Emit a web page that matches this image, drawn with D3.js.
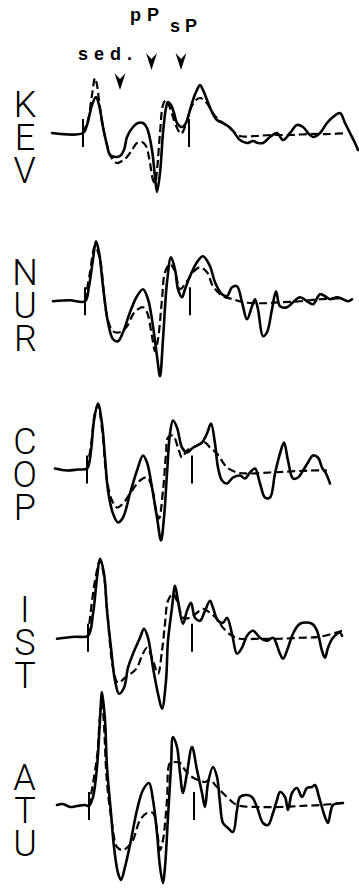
<!DOCTYPE html>
<html><head><meta charset="utf-8">
<script src="https://cdn.jsdelivr.net/npm/d3@7"></script>
<style>body{margin:0;background:#fff}svg{display:block}</style>
</head><body><svg id="c" width="359" height="888"></svg>
<script>
// ---- data (time in s, relative amplitude) ----
const stations = ["KEV","NUR","COP","IST","ATU"];
const phaseLabels = ["sed.","pP","sP"];
const phaseTimes = [7.0, 10.15, 13.1];
const onsetTimes = [3.3, 3.5, 3.7, 3.8, 3.9];
const secondTickTimes = [13.9, 14.0, 14.2, 14.2, 14.4];

const kevObserved = [[0.2,0],[3.3,0],[3.7,8],[4.2,28],[4.6,36],[4.9,28],[5.3,6],[5.7,-12],[6.0,-22],[6.5,-24],[7.0,-23],[7.4,-17],[7.7,-4],[8.3,6],[8.8,10],[9.3,10],[9.7,5],[10.2,-17],[10.5,-44],[10.7,-59],[11.0,-40],[11.3,0],[11.6,25],[11.8,31],[12.1,28],[12.4,20],[12.7,10],[13.2,6],[13.6,10],[14.0,23],[14.4,36],[14.7,43],[15.0,48],[15.3,43],[15.7,33],[16.2,21],[16.7,13],[17.3,10],[17.8,7],[18.3,2],[19.0,-7],[19.7,-10],[20.3,-8],[20.8,-10],[21.3,-10],[22.0,-4],[22.7,0],[23.3,-7],[24.0,0],[24.7,8],[25.3,6],[25.8,0],[26.3,-4],[27.0,0],[27.7,10],[28.3,16],[29.0,20],[29.5,10],[30.0,0],[30.5,-10],[30.8,-17]];
const kevSynthetic = [[3.3,0],[3.8,13],[4.2,38],[4.5,55],[4.7,48],[4.9,33],[5.3,6],[5.7,-12],[6.1,-24],[6.7,-30],[7.2,-28],[7.7,-24],[8.2,-17],[8.7,-10],[9.2,-9],[9.6,-13],[10.0,-30],[10.3,-47],[10.5,-50],[10.7,-37],[11.0,0],[11.3,28],[11.6,33],[12.0,25],[12.4,13],[12.8,3],[13.1,-1],[13.5,6],[14.0,23],[14.5,32],[15.0,35],[15.5,32],[16.0,25],[16.5,17],[17.3,10],[18.0,5],[19.0,-3],[20.5,-3],[22.0,-2],[24.0,-2],[26.0,-1],[28.0,-1],[29.7,0]];

const nurObserved = [[0.3,0],[2.0,1],[3.5,0],[3.9,15],[4.3,42],[4.6,60],[4.9,49],[5.3,15],[5.8,-21],[6.3,-38],[6.8,-40],[7.3,-31],[8.0,-11],[8.7,5],[9.3,12],[9.8,2],[10.3,-25],[10.7,-55],[11.0,-75],[11.3,-38],[11.7,19],[12.1,44],[12.5,32],[12.8,12],[13.2,4],[13.5,12],[14.0,25],[14.7,39],[15.3,45],[16.0,35],[16.5,19],[17.2,7],[17.7,5],[18.2,14],[18.7,15],[19.2,-1],[19.7,-18],[20.2,-5],[20.5,2],[20.8,-8],[21.3,-35],[21.7,-31],[22.2,-8],[22.6,10],[23.0,-5],[23.7,-6],[24.3,-1],[25.0,4],[25.7,0],[26.3,-3],[27.0,7],[27.5,5],[28.0,2],[28.7,4],[29.3,2],[29.8,0],[30.2,2]];
const nurSynthetic = [[3.5,0],[4.0,29],[4.5,55],[5.0,42],[5.4,7],[5.7,-15],[6.3,-30],[7.0,-31],[7.7,-25],[8.3,-13],[8.8,-8],[9.3,-6],[9.7,-11],[10.2,-35],[10.5,-50],[10.8,-38],[11.2,2],[11.5,29],[12.0,37],[12.5,30],[13.0,12],[13.7,20],[14.3,29],[15.0,34],[15.7,29],[16.3,15],[17.3,5],[18.3,2],[19.3,-1],[21.0,-2],[23.0,-1],[25.0,0],[27.0,2],[29.3,3]];

const copObserved = [[0.5,1],[1.7,-1],[2.8,0],[3.7,1],[4.1,19],[4.4,49],[4.8,66],[5.2,46],[5.5,12],[5.8,-21],[6.3,-44],[6.8,-53],[7.3,-48],[8.0,-24],[8.7,-1],[9.3,14],[9.7,7],[10.2,-18],[10.7,-48],[11.1,-71],[11.4,-48],[11.7,-4],[12.0,36],[12.3,49],[12.7,42],[13.2,22],[13.7,17],[14.2,21],[14.7,24],[15.2,27],[15.7,36],[16.1,46],[16.5,26],[16.8,2],[17.2,-11],[17.7,-14],[18.3,-8],[19.0,-6],[19.5,-9],[20.0,-3],[20.5,1],[21.0,-14],[21.5,-28],[22.0,-28],[22.5,-4],[23.0,16],[23.4,27],[23.8,9],[24.3,-9],[24.8,-8],[25.3,-1],[25.8,7],[26.3,14],[26.8,12],[27.2,2],[27.6,-4],[28.0,-14]];
const copSynthetic = [[3.7,1],[4.1,24],[4.5,57],[4.8,64],[5.2,41],[5.7,-11],[6.2,-31],[6.7,-38],[7.3,-34],[8.2,-21],[9.0,-11],[9.7,-8],[10.2,-18],[10.6,-41],[10.9,-49],[11.3,-21],[11.6,16],[11.8,32],[12.3,34],[12.8,22],[13.2,12],[13.7,19],[14.7,24],[15.5,27],[16.0,22],[16.7,16],[17.7,2],[18.7,-3],[19.7,-4],[22.0,-3],[24.0,-2],[26.0,-1],[27.7,-1]];

const istObserved = [[0.7,-1],[2.5,1],[3.8,2],[4.3,24],[4.7,60],[5.0,79],[5.4,64],[5.7,27],[6.1,-10],[6.5,-43],[6.9,-56],[7.4,-50],[7.8,-30],[8.3,-16],[9.0,0],[9.4,9],[9.8,0],[10.3,-30],[10.8,-56],[11.2,-71],[11.6,-43],[11.8,-3],[12.2,30],[12.5,52],[12.8,37],[13.3,14],[13.7,27],[14.1,35],[14.5,20],[15.0,17],[15.5,27],[16.0,37],[16.3,30],[16.8,17],[17.3,15],[17.7,20],[18.2,4],[18.7,-16],[19.2,-10],[19.7,2],[20.3,7],[21.0,0],[21.7,-3],[22.3,0],[23.0,-16],[23.3,-21],[23.8,-10],[24.3,4],[25.0,14],[26.2,14],[26.7,7],[27.2,-13],[27.5,-20],[27.8,-10],[28.3,0],[29.0,5],[29.2,2]];
const istSynthetic = [[3.8,2],[4.5,57],[5.0,77],[5.4,62],[5.7,30],[6.3,-30],[6.8,-45],[7.5,-40],[8.2,-35],[8.7,-30],[9.2,-18],[9.7,-10],[10.3,-23],[10.8,-36],[11.2,-13],[11.5,14],[11.8,37],[12.3,44],[12.8,34],[13.3,20],[14.0,20],[14.7,25],[15.3,29],[16.0,25],[16.7,19],[17.3,10],[18.2,2],[19.0,-1],[21.0,-1],[23.0,-1],[25.0,0],[27.0,1],[29.2,7]];

const atuObserved = [[0.7,1],[1.3,2],[2.0,-1],[2.7,0],[3.5,1],[3.9,0],[4.3,9],[4.7,39],[5.0,86],[5.2,114],[5.5,86],[5.7,39],[6.1,-7],[6.4,-41],[6.8,-67],[7.1,-74],[7.5,-61],[8.1,-34],[8.7,-4],[9.3,16],[9.9,23],[10.3,6],[10.7,-27],[11.0,-61],[11.3,-77],[11.5,-61],[11.8,-11],[12.1,39],[12.3,69],[12.7,59],[13.0,33],[13.3,13],[13.7,33],[14.2,59],[14.7,36],[15.2,13],[15.5,-1],[15.8,23],[16.3,39],[16.7,29],[17.0,3],[17.3,-17],[17.8,-22],[18.3,-26],[18.7,-4],[19.0,9],[19.7,11],[20.2,9],[20.7,-1],[21.3,-17],[21.8,-19],[22.3,-7],[22.7,6],[23.0,14],[23.5,9],[23.8,-4],[24.2,13],[24.7,18],[25.2,9],[25.7,18],[26.2,19],[26.5,21],[26.9,9],[27.5,-11],[27.8,-17],[28.1,-4],[28.3,1],[29.3,3]];
const atuSynthetic = [[3.9,0],[4.7,49],[5.0,91],[5.2,106],[5.4,81],[5.7,23],[6.2,-17],[6.7,-41],[7.3,-44],[8.2,-36],[9.0,-14],[9.7,-7],[10.3,-7],[10.7,-24],[11.0,-44],[11.3,-34],[11.7,6],[12.0,43],[12.5,44],[13.0,43],[13.5,36],[14.2,29],[14.8,26],[15.5,24],[16.0,26],[16.7,19],[17.7,9],[18.7,1],[21.0,-1],[23.0,-1],[25.0,0],[27.0,1],[29.3,3]];

const observed = [kevObserved, nurObserved, copObserved, istObserved, atuObserved];
const synthetic = [kevSynthetic, nurSynthetic, copSynthetic, istSynthetic, atuSynthetic];

// ---- drawing ----
const svg = d3.select("#c");
const x = d3.scaleLinear().domain([0, 31]).range([50, 360]);
const base = d3.scalePoint().domain(stations).range([133, 806]);
const amp = d3.scaleLinear().domain([-100, 100]).range([100, -100]);
const curve = d3.curveCatmullRom.alpha(0.5);

stations.forEach((s, i) => {
  const b = base(s);
  const g = svg.append("g").attr("transform", `translate(0,${b})`);
  const line = d3.line().x(d => x(d[0])).y(d => amp(d[1])).curve(curve);
  g.append("path").datum(synthetic[i]).attr("d", line)
    .attr("fill", "none").attr("stroke", "#000").attr("stroke-width", 2.2)
    .attr("stroke-dasharray", "8,4").attr("stroke-linejoin", "round");
  g.append("path").datum(observed[i]).attr("d", line)
    .attr("fill", "none").attr("stroke", "#000").attr("stroke-width", 2.6)
    .attr("stroke-linejoin", "round").attr("stroke-linecap", "round");
  [onsetTimes[i], secondTickTimes[i]].forEach(t => {
    g.append("line").attr("x1", x(t)).attr("x2", x(t))
      .attr("y1", amp(14)).attr("y2", amp(-14))
      .attr("stroke", "#000").attr("stroke-width", 2);
  });
  // station code, written as one vertical (upright) text
  svg.append("text").attr("x", 25).attr("y", b - 49)
    .attr("font-family", "Roboto, 'DejaVu Sans', sans-serif")
    .attr("font-weight", 300).attr("font-size", 36)
    .attr("letter-spacing", -9)
    .style("writing-mode", "vertical-rl")
    .style("text-orientation", "upright")
    .text(s);
});

// phase arrows and labels
const arrowTip = [90, 70, 70];
const labelPos = [[78, 60], [130, 21], [170, 32]];
const labelWidth = [54, 29, 27];
phaseTimes.forEach((t, i) => {
  const cx = x(t), ty = arrowTip[i];
  svg.append("path")
    .attr("d", `M${cx - 5.5},${ty - 17} L${cx},${ty - 11} L${cx + 5.5},${ty - 17} L${cx},${ty} Z`)
    .attr("fill", "#000");
  svg.append("text").attr("x", labelPos[i][0]).attr("y", labelPos[i][1])
    .attr("font-family", "'Liberation Sans', Arial, sans-serif")
    .attr("font-weight", "bold").attr("font-size", 18)
    .attr("textLength", labelWidth[i]).attr("lengthAdjust", "spacing")
    .text(phaseLabels[i]);
});
</script></body></html>
